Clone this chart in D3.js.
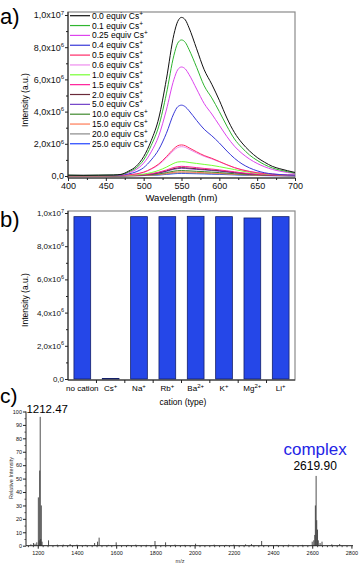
<!DOCTYPE html>
<html>
<head>
<meta charset="utf-8">
<script src="https://cdn.jsdelivr.net/npm/d3@7"></script>
<style>
    body { margin: 0; background: #fff; }
    svg text { font-family: "Liberation Sans", Arial, sans-serif; }
</style>
</head>
<body>
<div id="fig"></div>
<script>
// ---- panel a: emission spectra (intensity in 1e6 a.u.) ----
const wavelengths = [400, 420, 440, 460, 470, 480, 490, 500, 510, 520, 530, 540, 545, 550, 555,
                     560, 570, 580, 590, 600, 610, 620, 630, 640, 650, 660, 670, 680, 690, 700];
const eq00 = [0.05,0.04,0.05,0.06,0.1,0.3,0.6,1.2,2.2,3.6,6.0,8.8,9.6,9.85,9.7,9.2,7.9,6.6,5.7,4.7,3.6,2.7,2.05,1.55,1.15,0.85,0.6,0.45,0.33,0.22];
const eq01 = [0.05,0.04,0.05,0.06,0.09,0.25,0.5,1.0,1.9,3.1,5.1,7.5,8.25,8.45,8.3,7.85,6.75,5.6,4.85,4.0,3.1,2.3,1.75,1.3,0.97,0.7,0.5,0.37,0.27,0.18];
const eq025 = [0.04,0.04,0.04,0.05,0.08,0.2,0.4,0.8,1.5,2.5,4.1,6.0,6.6,6.77,6.65,6.3,5.4,4.5,3.85,3.15,2.45,1.85,1.4,1.05,0.78,0.57,0.41,0.3,0.22,0.15];
const eq04 = [0.03,0.03,0.03,0.04,0.06,0.13,0.26,0.52,1.0,1.65,2.65,3.9,4.3,4.4,4.3,4.05,3.45,2.9,2.5,2.05,1.55,1.1,0.75,0.5,0.32,0.2,0.13,0.09,0.06,0.05];
const eq05 = [0.02,0.02,0.02,0.03,0.04,0.07,0.13,0.24,0.45,0.75,1.2,1.7,1.88,1.93,1.88,1.75,1.5,1.27,1.1,0.9,0.7,0.52,0.38,0.28,0.2,0.15,0.11,0.08,0.06,0.05];
const eq06 = [0.02,0.02,0.02,0.03,0.04,0.07,0.12,0.22,0.42,0.7,1.12,1.6,1.77,1.82,1.78,1.66,1.43,1.22,1.06,0.88,0.69,0.52,0.39,0.29,0.21,0.16,0.12,0.09,0.07,0.05];
const eq10 = [0.01,0.01,0.01,0.02,0.02,0.04,0.07,0.12,0.21,0.35,0.55,0.79,0.87,0.89,0.88,0.84,0.78,0.72,0.66,0.58,0.49,0.4,0.31,0.23,0.17,0.12,0.09,0.07,0.05,0.04];
const eq15 = [0.01,0.01,0.01,0.01,0.02,0.03,0.05,0.08,0.14,0.24,0.37,0.53,0.58,0.6,0.59,0.57,0.52,0.47,0.43,0.38,0.32,0.26,0.2,0.15,0.11,0.08,0.06,0.05,0.04,0.03];
const eq20 = [0.01,0.01,0.01,0.01,0.02,0.03,0.04,0.07,0.12,0.2,0.32,0.46,0.5,0.52,0.51,0.49,0.45,0.41,0.37,0.33,0.28,0.22,0.17,0.13,0.1,0.07,0.05,0.04,0.03,0.03];
const eq50 = [0.01,0.01,0.01,0.01,0.02,0.03,0.04,0.06,0.11,0.18,0.29,0.42,0.46,0.48,0.47,0.45,0.41,0.38,0.34,0.3,0.25,0.2,0.16,0.12,0.09,0.07,0.05,0.04,0.03,0.02];
const eq100 = [0.01,0.01,0.01,0.01,0.01,0.02,0.03,0.05,0.08,0.13,0.21,0.3,0.33,0.34,0.33,0.32,0.29,0.27,0.24,0.21,0.18,0.14,0.11,0.09,0.07,0.05,0.04,0.03,0.02,0.02];
const eq150 = [0.01,0.01,0.01,0.01,0.01,0.02,0.02,0.04,0.06,0.1,0.16,0.23,0.25,0.26,0.255,0.245,0.225,0.205,0.185,0.165,0.14,0.11,0.09,0.07,0.05,0.04,0.03,0.02,0.02,0.02];
const eq200 = [0.01,0.01,0.01,0.01,0.01,0.01,0.02,0.03,0.05,0.08,0.12,0.18,0.19,0.2,0.195,0.19,0.175,0.16,0.145,0.13,0.11,0.09,0.07,0.055,0.04,0.03,0.025,0.02,0.015,0.01];
const eq250 = [0.01,0.01,0.01,0.01,0.01,0.01,0.02,0.03,0.04,0.06,0.1,0.14,0.155,0.16,0.155,0.15,0.14,0.13,0.115,0.1,0.085,0.07,0.055,0.04,0.03,0.025,0.02,0.015,0.01,0.01];

const equivLabels = ['0.0', '0.1', '0.25', '0.4', '0.5', '0.6', '1.0', '1.5', '2.0', '5.0', '10.0', '15.0', '20.0', '25.0'];
const equivSeries = [eq00, eq01, eq025, eq04, eq05, eq06, eq10, eq15, eq20, eq50, eq100, eq150, eq200, eq250];
const equivColors = ['#111111', '#2fb52f', '#dd44ee', '#3838d8', '#ff2a66', '#ee8cee', '#77ff33', '#ff1f99',
                     '#6b2a3a', '#7040c8', '#3f8a2e', '#ff7a55', '#8a8a8a', '#2244ff'];

const aXTicks = [400, 450, 500, 550, 600, 650, 700];
const aYTicks = [0, 2, 4, 6, 8, 10];
const aYLabels = [['0,0', ''], ['2,0x10', '6'], ['4,0x10', '6'], ['6,0x10', '6'], ['8,0x10', '6'], ['1,0x10', '7']];

// ---- panel b: selectivity bars (intensity in 1e6 a.u.) ----
const cations = ['no cation', 'Cs', 'Na', 'Rb', 'Ba', 'K', 'Mg', 'Li'];
const cationCharges = ['', '+', '+', '+', '2+', '+', '2+', '+'];
const cationIntensity = [9.78, 0.03, 9.78, 9.78, 9.8, 9.78, 9.7, 9.78];

// ---- panel c: mass spectrum (m/z, relative intensity %) ----
const peakMz = [1165, 1178, 1186, 1195, 1203, 1207, 1210, 1212.47, 1215, 1218, 1222, 1255, 1300, 1330, 1365,
                1400, 1445, 1490, 1505, 1513, 1560, 1600, 1660, 1700, 1755, 1798, 1852, 1900, 1950, 2005,
                2100, 2160, 2200, 2260, 2290, 2342, 2420, 2480, 2550, 2600, 2608, 2613, 2616, 2619.9, 2623,
                2627, 2631, 2640, 2650, 2700, 2740];
const peakInt = [1, 2, 1.5, 2.5, 36, 4, 56, 96, 5, 30, 3, 4, 0.8, 0.8, 1.2,
                 0.8, 0.6, 2, 3, 6, 0.6, 2.5, 0.6, 0.8, 0.6, 3.5, 2.5, 0.8, 0.6, 1.5,
                 0.8, 0.6, 0.8, 1, 1.2, 3.5, 0.6, 0.8, 0.6, 3, 4, 8, 30, 52, 19,
                 12, 4, 2, 3, 1, 1.2];
const cXTicks = [1200, 1400, 1600, 1800, 2000, 2200, 2400, 2600, 2800];
const cYTicks = [0, 10, 20, 30, 40, 50, 60, 70, 80, 90, 100];

window.Fig = window.Fig || {};

Fig.init = function() {
    Fig.svg = d3.select('#fig').append('svg')
        .attr('width', 360)
        .attr('height', 564);

    Fig.svg.append('rect').attr('width', 360).attr('height', 564).attr('fill', '#fff');

    Fig.drawA();
    Fig.drawB();
    Fig.drawC();
};

Fig.panelLetter = function(txt, x, y, size) {
    Fig.svg.append('text')
        .attr('x', x).attr('y', y)
        .attr('font-size', size)
        .text(txt);
};

// writes "1,0x10" + superscript into a tick text
Fig.supText = function(sel, main, sup, supSize) {
    sel.text(null);
    sel.append('tspan').text(main);
    if (sup) {
        sel.append('tspan').attr('dy', -3.5).attr('font-size', supSize).text(sup);
    }
};

Fig.styleAxis = function(g, size) {
    g.select('.domain').attr('stroke', '#222');
    g.selectAll('.tick line').attr('stroke', '#222');
    g.selectAll('.tick text').attr('fill', '#111').attr('font-size', size)
        .attr('font-family', '"Liberation Sans", Arial, sans-serif');
};

Fig.drawA = function() {
    const L = 68, R = 295, T = 12, B = 178;
    const x = d3.scaleLinear().domain([400, 700]).range([L, R]);
    const y = d3.scaleLinear().domain([0, 10]).range([176, 15]);

    Fig.panelLetter('a)', 0, 24, 22);

    const g = Fig.svg.append('g');

    // frame
    g.append('rect').attr('x', L).attr('y', T).attr('width', R - L).attr('height', B - T)
        .attr('fill', 'none').attr('stroke', '#8a8a8a').attr('stroke-width', 1.2);

    // curves
    const line = d3.line()
        .x((d, i) => x(wavelengths[i]))
        .y(d => y(d))
        .curve(d3.curveMonotoneX);

    for (let k = equivSeries.length - 1; k >= 0; k--) {
        g.append('path')
            .attr('d', line(equivSeries[k]))
            .attr('fill', 'none')
            .attr('stroke', equivColors[k])
            .attr('stroke-width', 1);
    }

    // axes
    const xa = g.append('g').attr('transform', `translate(0,${B})`)
        .call(d3.axisBottom(x).tickValues(aXTicks).tickSize(3).tickPadding(2).tickFormat(d3.format('d')));
    g.append('g').attr('transform', `translate(0,${B})`)
        .call(d3.axisBottom(x).tickValues(d3.range(425, 700, 50)).tickSize(2).tickFormat(''))
        .call(a => a.select('.domain').remove())
        .selectAll('line').attr('stroke', '#222');
    Fig.styleAxis(xa, 9);

    const ya = g.append('g').attr('transform', `translate(${L},0)`)
        .call(d3.axisLeft(y).tickValues(aYTicks).tickSize(3).tickPadding(1));
    g.append('g').attr('transform', `translate(${L},0)`)
        .call(d3.axisLeft(y).tickValues([1, 3, 5, 7, 9]).tickSize(2).tickFormat(''))
        .call(a => a.select('.domain').remove())
        .selectAll('line').attr('stroke', '#222');
    Fig.styleAxis(ya, 9);
    ya.select('.domain').attr('d', `M0,${B}V${T}`);
    xa.select('.domain').attr('d', `M${L},0H${R}`);
    ya.selectAll('.tick text').each(function(d, i) {
        Fig.supText(d3.select(this), aYLabels[i][0], aYLabels[i][1], 6);
    });

    g.append('text').attr('x', (L + R) / 2).attr('y', 201)
        .attr('text-anchor', 'middle').attr('font-size', 9.5).text('Wavelength (nm)');
    g.append('text').attr('transform', 'translate(28,100) rotate(-90)')
        .attr('text-anchor', 'middle').attr('font-size', 8.5).text('Intensity (a.u.)');

    // legend
    const leg = g.append('g');
    equivLabels.forEach(function(lab, i) {
        const ly = 15.7 + i * 9.85;
        leg.append('line').attr('x1', 70).attr('x2', 90).attr('y1', ly).attr('y2', ly)
            .attr('stroke', equivColors[i]).attr('stroke-width', 1.2);
        const t = leg.append('text').attr('x', 92).attr('y', ly + 3).attr('font-size', 8.5);
        t.append('tspan').text(lab + ' equiv Cs');
        t.append('tspan').attr('dy', -3).attr('font-size', 6.5).text('+');
    });
};

Fig.drawB = function() {
    const L = 68, R = 295, T = 211, B = 380;
    const x = d3.scaleBand().domain(cations).range([L, R]).paddingInner(0.41).paddingOuter(0.21);
    const y = d3.scaleLinear().domain([0, 10]).range([379, 213]);

    Fig.panelLetter('b)', 0, 227, 22);

    const g = Fig.svg.append('g');

    g.append('rect').attr('x', L).attr('y', T).attr('width', R - L).attr('height', B - T)
        .attr('fill', 'none').attr('stroke', '#8a8a8a').attr('stroke-width', 1.2);

    g.selectAll('.bar').data(cations).enter().append('rect')
        .attr('class', 'bar')
        .attr('x', d => x(d))
        .attr('width', x.bandwidth())
        .attr('y', (d, i) => y(cationIntensity[i]))
        .attr('height', (d, i) => y(0) - y(cationIntensity[i]))
        .attr('fill', '#2547e8')
        .attr('stroke', '#14206a')
        .attr('stroke-width', 0.8);

    // x axis: ticks at band boundaries, labels at band centres
    const bounds = cations.slice(1).map(c => x(c) - x.step() * x.paddingInner() / 2);
    const xb = g.append('g').attr('transform', `translate(0,${B})`);
    xb.append('path').attr('d', `M${L},0H${R}`).attr('stroke', '#222');
    xb.selectAll('line').data(bounds).enter().append('line')
        .attr('x1', d => d).attr('x2', d => d).attr('y1', 0).attr('y2', 3)
        .attr('stroke', '#222');
    xb.selectAll('text').data(cations).enter().append('text')
        .attr('x', d => x(d) + x.bandwidth() / 2)
        .attr('y', 11)
        .attr('text-anchor', 'middle')
        .attr('font-size', 8)
        .each(function(d, i) {
            Fig.supText(d3.select(this), d, cationCharges[i], 6);
        });

    const ya = g.append('g').attr('transform', `translate(${L},0)`)
        .call(d3.axisLeft(y).tickValues(aYTicks).tickSize(3).tickPadding(1));
    g.append('g').attr('transform', `translate(${L},0)`)
        .call(d3.axisLeft(y).tickValues([1, 3, 5, 7, 9]).tickSize(2).tickFormat(''))
        .call(a => a.select('.domain').remove())
        .selectAll('line').attr('stroke', '#222');
    Fig.styleAxis(ya, 8);
    ya.select('.domain').attr('d', `M0,${B}V${T}`);
    ya.selectAll('.tick text').each(function(d, i) {
        Fig.supText(d3.select(this), aYLabels[i][0], aYLabels[i][1], 5.5);
    });

    g.append('text').attr('x', 183).attr('y', 405)
        .attr('text-anchor', 'middle').attr('font-size', 8.5).text('cation (type)');
    g.append('text').attr('transform', 'translate(28,300) rotate(-90)')
        .attr('text-anchor', 'middle').attr('font-size', 8.5).text('Intensity (a.u.)');
};

Fig.drawC = function() {
    const L = 26, R = 353, B = 545.7;
    const x = d3.scaleLinear().domain([1140, 2808]).range([L, R]);
    const y = d3.scaleLinear().domain([0, 100]).range([B, 411.5]);

    Fig.panelLetter('c)', 0, 403, 21);

    const g = Fig.svg.append('g');

    g.selectAll('.peak').data(peakMz).enter().append('line')
        .attr('class', 'peak')
        .attr('x1', d => x(d)).attr('x2', d => x(d))
        .attr('y1', y(0))
        .attr('y2', (d, i) => y(peakInt[i]))
        .attr('stroke', '#3a3a3a')
        .attr('stroke-width', 0.9);

    const xa = g.append('g').attr('transform', `translate(0,${B})`)
        .call(d3.axisBottom(x).tickValues(cXTicks).tickSize(3).tickPadding(2).tickFormat(d3.format('d')));
    g.append('g').attr('transform', `translate(0,${B})`)
        .call(d3.axisBottom(x).tickValues(d3.range(1150, 2800, 25).filter(v => v % 200 !== 0)).tickSize(1.5).tickFormat(''))
        .call(a => a.select('.domain').remove())
        .selectAll('line').attr('stroke', '#444');
    Fig.styleAxis(xa, 5.5);
    xa.select('.domain').attr('d', `M${L},0H${R}`);

    const ya = g.append('g').attr('transform', `translate(${L},0)`)
        .call(d3.axisLeft(y).tickValues(cYTicks).tickSize(3).tickPadding(1));
    g.append('g').attr('transform', `translate(${L},0)`)
        .call(d3.axisLeft(y).tickValues(d3.range(5, 100, 10)).tickSize(1.5).tickFormat(''))
        .call(a => a.select('.domain').remove())
        .selectAll('line').attr('stroke', '#444');
    Fig.styleAxis(ya, 5.5);
    ya.select('.domain').attr('d', `M0,${B}V${y(100)}`);

    g.append('text').attr('x', 180).attr('y', 563)
        .attr('text-anchor', 'middle').attr('font-size', 5.5).attr('fill', '#333').text('m/z');
    g.append('text').attr('transform', 'translate(13,478) rotate(-90)')
        .attr('text-anchor', 'middle').attr('font-size', 5.5).attr('fill', '#333').text('Relative Intensity');

    // peak annotations
    g.append('text').attr('x', x(1212.47) + 7).attr('y', 413)
        .attr('text-anchor', 'middle').attr('font-size', 11.5).text('1212.47');
    g.append('text').attr('x', x(2619.9) - 1).attr('y', 455)
        .attr('text-anchor', 'middle').attr('font-size', 17).attr('fill', '#2424e6').text('complex');
    g.append('text').attr('x', x(2619.9) - 1).attr('y', 470)
        .attr('text-anchor', 'middle').attr('font-size', 12).text('2619.90');
};

document.addEventListener('DOMContentLoaded', Fig.init);
</script>
</body>
</html>
